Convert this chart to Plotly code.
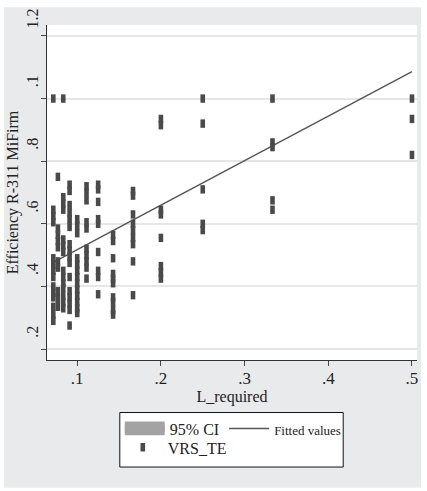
import plotly.graph_objects as go

# L_required groups (1/n) and the VRS_TE efficiency scores observed in each
l_required = [1/14, 1/13, 1/12, 1/11, 1/10, 1/9, 1/8, 1/7, 1/6, 1/5, 1/4, 1/3, 1/2]
vrs_te = [
    [1.0, 0.645, 0.625, 0.605, 0.49, 0.47, 0.45, 0.43, 0.40, 0.38, 0.365, 0.335, 0.31, 0.29],
    [0.75, 0.585, 0.565, 0.545, 0.525, 0.48, 0.46, 0.385, 0.36, 0.335],
    [1.0, 0.685, 0.665, 0.645, 0.55, 0.53, 0.51, 0.45, 0.43, 0.41, 0.395, 0.37, 0.35, 0.33],
    [0.725, 0.705, 0.66, 0.635, 0.615, 0.59, 0.535, 0.515, 0.495, 0.475, 0.43, 0.385, 0.365, 0.345, 0.325, 0.275],
    [0.615, 0.595, 0.57, 0.49, 0.47, 0.45, 0.43, 0.41, 0.39, 0.37, 0.35, 0.33, 0.315],
    [0.72, 0.70, 0.675, 0.605, 0.585, 0.52, 0.50, 0.48, 0.46, 0.425],
    [0.725, 0.71, 0.67, 0.615, 0.60, 0.51, 0.45, 0.43, 0.375],
    [0.565, 0.545, 0.49, 0.44, 0.425, 0.41, 0.365, 0.35, 0.325, 0.31],
    [0.705, 0.69, 0.63, 0.60, 0.58, 0.555, 0.535, 0.48, 0.372],
    [0.935, 0.915, 0.645, 0.63, 0.555, 0.465, 0.445, 0.425],
    [1.0, 0.92, 0.71, 0.60, 0.58],
    [1.0, 0.86, 0.845, 0.675, 0.645],
    [1.0, 0.935, 0.82],
]

# Linear fit (Fitted values) end points
fit_x = [1/14, 0.5]
fit_y = [0.477, 1.086]

x_ticks = [0.1, 0.2, 0.3, 0.4, 0.5]
x_ticktext = [".1", ".2", ".3", ".4", ".5"]
y_ticks = [0.2, 0.4, 0.6, 0.8, 1.0, 1.2]
y_ticktext = [".2", ".4", ".6", ".8", ".1", "1.2"]

pts_x = [x for x, ys in zip(l_required, vrs_te) for _ in ys]
pts_y = [y for ys in vrs_te for y in ys]

FONT = "Liberation Serif, Times New Roman, serif"
PANEL = "#e9eaec"
INK = "#222222"
MARK = "#4a4a4a"
CI_GREY = "#a3a3a3"

fig = go.Figure()

fig.add_trace(go.Scatter(
    x=[None], y=[None], mode="none", fill="toself",
    fillcolor=CI_GREY, name="95% CI", legend="legend",
))
fig.add_trace(go.Scatter(
    x=fit_x, y=fit_y, mode="lines",
    line=dict(color="#555555", width=1.4),
    name="<span style='font-size:13px'>Fitted values</span>", legend="legend",
))
fig.add_trace(go.Scatter(
    x=pts_x, y=pts_y, mode="markers",
    marker=dict(symbol="line-ns", size=6, line=dict(color=MARK, width=4.6)),
    name="VRS_TE", legend="legend2",
))

W, H = 427, 491
ml, mr, mt, mb = 47, 9, 22, 131
pw, ph = W - ml - mr, H - mt - mb


def px_x(p):
    return (p - ml) / pw


def px_y(p):
    return (H - mb - p) / ph


fig.update_layout(
    width=W, height=H,
    margin=dict(l=ml, r=mr, t=mt, b=mb),
    paper_bgcolor="white",
    plot_bgcolor="white",
    font=dict(family=FONT, size=16, color=INK),
    showlegend=True,
    legend=dict(
        orientation="h", x=px_x(120), y=px_y(412), xanchor="left", yanchor="top",
        bgcolor="rgba(0,0,0,0)", font=dict(family=FONT, size=16, color=INK),
        itemwidth=40,
    ),
    legend2=dict(
        orientation="h", x=px_x(118), y=px_y(431), xanchor="left", yanchor="top",
        bgcolor="rgba(0,0,0,0)", font=dict(family=FONT, size=16, color=INK),
        itemwidth=40,
    ),
    shapes=[
        # grey graph region and white plot region
        dict(type="rect", xref="paper", yref="paper", layer="below",
             x0=px_x(4), x1=px_x(422), y0=px_y(489), y1=px_y(4),
             fillcolor=PANEL, line=dict(width=0)),
        dict(type="rect", xref="paper", yref="paper", layer="below",
             x0=0, x1=1, y0=0, y1=1, fillcolor="white", line=dict(width=0)),
        # legend frame and the wide CI key swatch
        dict(type="rect", xref="paper", yref="paper", layer="below",
             x0=px_x(120), x1=px_x(344), y0=px_y(468), y1=px_y(413),
             fillcolor="white", line=dict(color="#111111", width=1)),
        dict(type="rect", xref="paper", yref="paper", layer="below",
             x0=px_x(125), x1=px_x(165), y0=px_y(436), y1=px_y(422),
             fillcolor=CI_GREY, line=dict(width=0)),
    ],
    xaxis=dict(
        range=[0.0639, 0.506],
        tickvals=x_ticks, ticktext=x_ticktext,
        ticks="outside", ticklen=5, tickcolor="#444444",
        ticklabelstandoff=-2,
        showline=True, linecolor="#333333", linewidth=1,
        showgrid=False, zeroline=False,
        tickfont=dict(family=FONT, size=17, color=INK),
        title=dict(text="L_required", font=dict(family=FONT, size=16, color=INK), standoff=2),
    ),
    yaxis=dict(
        range=[0.165, 1.235],
        tickvals=y_ticks, ticktext=y_ticktext, tickangle=-90,
        ticklabelshift=-15, ticklabelstandoff=-3,
        ticks="outside", ticklen=5, tickcolor="#444444",
        showline=True, linecolor="#333333", linewidth=1,
        showgrid=True, gridcolor="#e4e6e8", gridwidth=1.5,
        zeroline=False,
        tickfont=dict(family=FONT, size=16, color=INK),
        title=dict(text="Efficiency R-311 MiFirm", font=dict(family=FONT, size=16, color=INK), standoff=0),
    ),
)

fig.write_html("out.html")
